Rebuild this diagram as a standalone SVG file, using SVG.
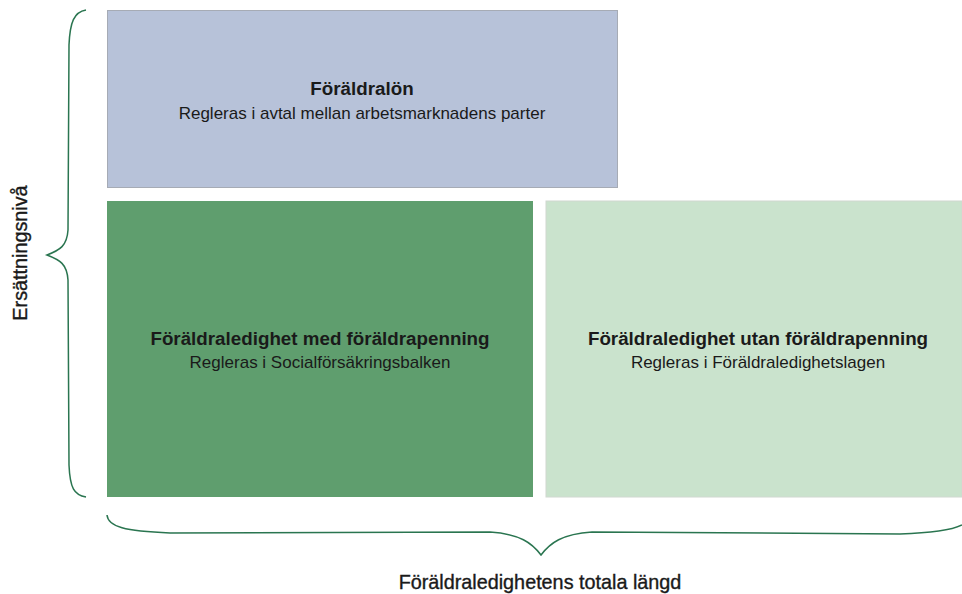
<svg xmlns="http://www.w3.org/2000/svg" width="962" height="594" viewBox="0 0 962 594">
<style>
.t{font-family:"Liberation Sans",Arial,sans-serif;font-weight:bold;font-size:18.8px;fill:#1a1a1a;text-anchor:middle}
.s{font-family:"Liberation Sans",Arial,sans-serif;font-size:17px;fill:#1a1a1a;text-anchor:middle}
.l{font-family:"Liberation Sans",Arial,sans-serif;font-size:19.8px;fill:#1a1a1a;text-anchor:middle;stroke:#1a1a1a;stroke-width:0.35}
.brace{fill:none;stroke:#2a7550;stroke-width:1.5}
</style>
<rect width="962" height="594" fill="#ffffff"/>
<g id="foraldralon">
<rect x="107.5" y="10.5" width="510" height="177" fill="#b7c2d9" stroke="#a6abb5" stroke-width="1"/>
<text class="t" x="362" y="95">Föräldralön</text>
<text class="s" x="362" y="119">Regleras i avtal mellan arbetsmarknadens parter</text>
</g>
<g id="med">
<rect x="107" y="201" width="426" height="296" fill="#5f9e6e"/>
<text class="t" x="320" y="345">Föräldraledighet med föräldrapenning</text>
<text class="s" x="320" y="368">Regleras i Socialförsäkringsbalken</text>
</g>
<g id="utan">
<rect x="546" y="201" width="416" height="296" fill="#cae3cd" stroke="#d0d8d0" stroke-width="1"/>
<text class="t" x="758" y="345">Föräldraledighet utan föräldrapenning</text>
<text class="s" x="758" y="368">Regleras i Föräldraledighetslagen</text>
</g>
<g id="braces">
<path class="brace" d="M86,10 C74,12 70,22 69,45 L68,230 C67,246 60,250 47,255 C60,260 67,264 68,280 L69,465 C70,488 74,495 86,497"/>
<path class="brace" d="M107,515 C108,527 125,531 170,533 L490,532 C520,534 532,543 541,555 C550,543 562,534 592,532 L900,534 C935,533 952,530 962,525"/>
</g>
<g id="labels">
<text class="l" x="0" y="0" transform="translate(27,253) rotate(-90)">Ersättningsnivå</text>
<text class="l" x="540" y="589">Föräldraledighetens totala längd</text>
</g>
</svg>
